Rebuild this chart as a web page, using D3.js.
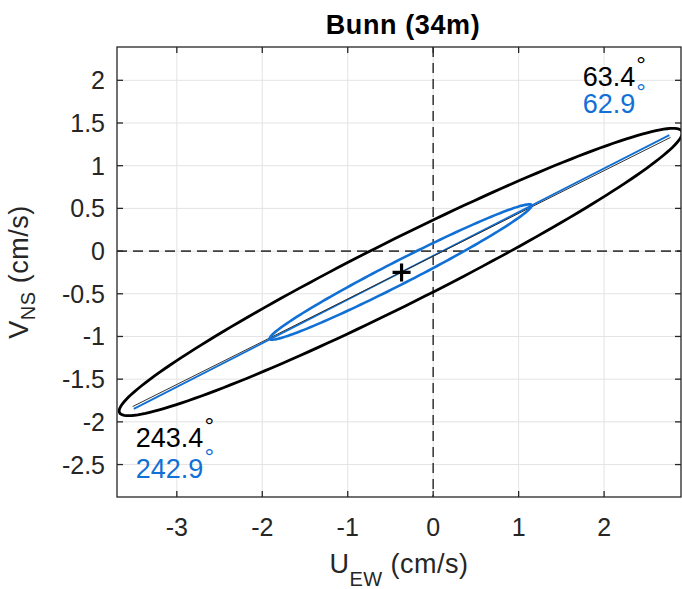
<!DOCTYPE html>
<html>
<head>
<meta charset="utf-8">
<script src="https://cdn.jsdelivr.net/npm/d3@7"></script>
<style>
  html, body { margin: 0; padding: 0; background: #fff; }
  svg { display: block; font-family: "Liberation Sans", Arial, Helvetica, sans-serif; }
</style>
</head>
<body>
<svg id="chart" width="682" height="589"></svg>
<script>
// ---------------- data ----------------
const title = "Bunn (34m)";
const xTicks = [-3, -2, -1, 0, 1, 2];
const yTicks = [-2.5, -2, -1.5, -1, -0.5, 0, 0.5, 1, 1.5, 2];
const xDomain = [-3.7, 2.9];
const yDomain = [-2.88, 2.39];

// ellipse parameters: [centerU, centerV, semiMajor, semiMinor, directionDegFromNorth]
const blackEllipse = [-0.38, -0.245, 3.68, 0.38, 63.4];
const blueEllipse  = [-0.38, -0.245, 1.72, 0.135, 62.9];
// principal axis lines: [centerU, centerV, halfLength, directionDegFromNorth]
const blackAxis = [-0.37, -0.245, 3.52, 63.4];
const blueAxis  = [-0.37, -0.245, 3.52, 62.9];
// mean marker
const meanPoint = [-0.37, -0.25];
// direction annotations: [u, v, text]
const angleLabelsBlack = [[1.75, 1.93, "63.4"], [-3.48, -2.3, "243.4"]];
const angleLabelsBlue  = [[1.75, 1.62, "62.9"], [-3.48, -2.66, "242.9"]];

// ---------------- layout ----------------
const svg = d3.select("#chart");
const L = 117, R = 681, T = 47, B = 497;
const x = d3.scaleLinear().domain(xDomain).range([L, R]);
const y = d3.scaleLinear().domain(yDomain).range([B, T]);
const BLUE = "#1170d6";
const AX = "#262626";

svg.append("defs").append("clipPath").attr("id", "clip")
  .append("rect").attr("x", L).attr("y", T).attr("width", R - L).attr("height", B - T);

// grid
const grid = svg.append("g");
grid.selectAll(".gx").data(xTicks).join("line")
  .attr("x1", d => x(d)).attr("x2", d => x(d)).attr("y1", T).attr("y2", B)
  .attr("stroke", "#e3e3e3").attr("stroke-width", 1);
grid.selectAll(".gy").data(yTicks).join("line")
  .attr("y1", d => y(d)).attr("y2", d => y(d)).attr("x1", L).attr("x2", R)
  .attr("stroke", "#e3e3e3").attr("stroke-width", 1);

const plot = svg.append("g").attr("clip-path", "url(#clip)");

// zero dashed lines
plot.append("line").attr("x1", x(0)).attr("x2", x(0)).attr("y1", T).attr("y2", B)
  .attr("stroke", "#404040").attr("stroke-width", 1.6).attr("stroke-dasharray", "10,6");
plot.append("line").attr("x1", L).attr("x2", R).attr("y1", y(0)).attr("y2", y(0))
  .attr("stroke", "#404040").attr("stroke-width", 1.6).attr("stroke-dasharray", "10,6");

function ellipsePts(p) {
  const [cx, cy, a, b, dir] = p;
  const th = (90 - dir) * Math.PI / 180;
  return d3.range(0, 361, 2).map(k => {
    const t = k * Math.PI / 180;
    return [cx + a * Math.cos(t) * Math.cos(th) - b * Math.sin(t) * Math.sin(th),
            cy + a * Math.cos(t) * Math.sin(th) + b * Math.sin(t) * Math.cos(th)];
  });
}
function axisPts(p) {
  const [cx, cy, h, dir] = p;
  const th = (90 - dir) * Math.PI / 180;
  return [[cx - h * Math.cos(th), cy - h * Math.sin(th)], [cx + h * Math.cos(th), cy + h * Math.sin(th)]];
}
const line = d3.line().x(d => x(d[0])).y(d => y(d[1])).curve(d3.curveLinear);

plot.append("path").attr("d", line(axisPts(blueAxis)))
  .attr("fill", "none").attr("stroke", BLUE).attr("stroke-width", 1.8);
plot.append("path").attr("d", line(axisPts(blackAxis)))
  .attr("fill", "none").attr("stroke", "#333").attr("stroke-width", 1);
plot.append("path").attr("d", line(ellipsePts(blueEllipse)))
  .attr("fill", "none").attr("stroke", BLUE).attr("stroke-width", 2.6);
plot.append("path").attr("d", line(ellipsePts(blackEllipse)))
  .attr("fill", "none").attr("stroke", "#000").attr("stroke-width", 2.8);

// mean marker
const mx = x(meanPoint[0]), my = y(meanPoint[1]);
plot.append("path").attr("d", `M${mx - 9},${my}H${mx + 9}M${mx},${my - 9}V${my + 9}`)
  .attr("stroke", "#000").attr("stroke-width", 3.2).attr("fill", "none");

// angle labels
function angleLabel(d, color) {
  const t = svg.append("text").attr("x", x(d[0])).attr("y", y(d[1]))
    .attr("font-size", 27).attr("fill", color);
  t.append("tspan").text(d[2]);
  t.append("tspan").attr("font-size", 24).attr("dy", -13).attr("dx", 1).text("°");
}
angleLabelsBlack.forEach(d => angleLabel(d, "#000"));
angleLabelsBlue.forEach(d => angleLabel(d, BLUE));

// box
svg.append("rect").attr("x", L).attr("y", T).attr("width", R - L).attr("height", B - T)
  .attr("fill", "none").attr("stroke", AX).attr("stroke-width", 1.3);

// ticks (inward, all four sides)
const tl = 6;
const tk = svg.append("g").attr("stroke", AX).attr("stroke-width", 1.3);
xTicks.forEach(d => {
  tk.append("line").attr("x1", x(d)).attr("x2", x(d)).attr("y1", B).attr("y2", B - tl);
  tk.append("line").attr("x1", x(d)).attr("x2", x(d)).attr("y1", T).attr("y2", T + tl);
});
yTicks.forEach(d => {
  tk.append("line").attr("y1", y(d)).attr("y2", y(d)).attr("x1", L).attr("x2", L + tl);
  tk.append("line").attr("y1", y(d)).attr("y2", y(d)).attr("x1", R).attr("x2", R - tl);
});

// tick labels
const fmt = d => String(d);
svg.append("g").selectAll("text").data(xTicks).join("text")
  .attr("x", d => x(d)).attr("y", 536).attr("text-anchor", "middle")
  .attr("font-size", 25).attr("fill", AX).text(fmt);
svg.append("g").selectAll("text").data(yTicks).join("text")
  .attr("x", 105).attr("y", d => y(d) + 9).attr("text-anchor", "end")
  .attr("font-size", 25).attr("fill", AX).text(fmt);

// title
svg.append("text").attr("x", (L + R) / 2 + 4).attr("y", 34).attr("text-anchor", "middle")
  .attr("font-size", 27).attr("letter-spacing", 0.6).attr("font-weight", "bold").attr("fill", "#000").text(title);

// x label
const xl = svg.append("text").attr("x", (L + R) / 2).attr("y", 573).attr("text-anchor", "middle")
  .attr("font-size", 27).attr("letter-spacing", 0.5).attr("fill", AX);
xl.append("tspan").text("U");
xl.append("tspan").attr("font-size", 20).attr("dy", 13).text("EW");
xl.append("tspan").attr("dy", -13).text(" (cm/s)");

// y label
const yl = svg.append("text").attr("transform", `translate(28,${(T + B) / 2}) rotate(-90)`)
  .attr("text-anchor", "middle").attr("font-size", 27).attr("letter-spacing", 0.5).attr("fill", AX);
yl.append("tspan").text("V");
yl.append("tspan").attr("font-size", 20).attr("dy", 7).text("NS");
yl.append("tspan").attr("dy", -7).text(" (cm/s)");
</script>
</body>
</html>
